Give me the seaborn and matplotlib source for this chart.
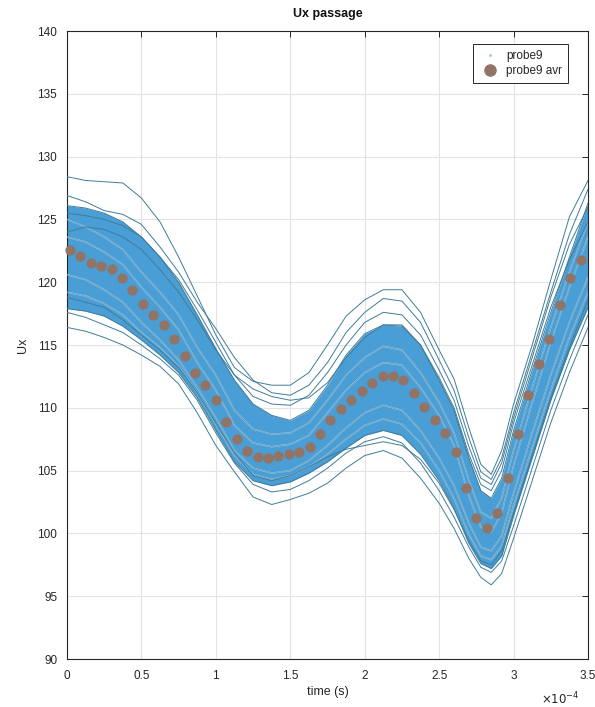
import matplotlib
matplotlib.use("Agg")
import matplotlib.pyplot as plt
from matplotlib.lines import Line2D
import pandas as pd
import seaborn as sns

# Time axis in units of 1e-4 s
t_grid = [0, 0.125, 0.25, 0.375, 0.5, 0.625, 0.75, 0.875, 1.0, 1.125, 1.25,
          1.375, 1.5, 1.625, 1.75, 1.875, 2.0, 2.125, 2.25, 2.375, 2.5,
          2.6, 2.7, 2.78, 2.85, 2.92, 3.0, 3.125, 3.25, 3.375, 3.5]

# Dense bundle of probe9 passages: upper and lower edge
core_upper = [126.1, 125.9, 125.5, 124.8, 123.6, 122.0, 120.0, 117.4, 114.7, 112.2, 110.3,
              109.4, 109.0, 109.8, 111.8, 114.2, 115.9, 116.6, 116.5, 115.0, 112.2,
              109.8, 106.0, 103.4, 102.8, 104.4, 108.2, 113.0, 117.6, 122.0, 126.3]
core_lower = [117.9, 117.7, 117.3, 116.5, 115.4, 114.2, 112.8, 110.8, 108.2, 105.7, 104.2,
              103.8, 104.1, 104.8, 105.7, 106.8, 107.8, 108.2, 107.8, 106.3, 104.2,
              102.0, 99.2, 97.6, 97.2, 98.2, 101.4, 106.0, 110.6, 114.6, 118.0]

# Individual passages standing out of the bundle
outer_runs = {
    "r01": [128.4, 128.1, 128.0, 127.9, 126.7, 124.8, 122.0, 118.9, 115.8, 113.2, 112.1,
            111.8, 111.8, 112.8, 115.0, 117.3, 118.6, 119.4, 119.4, 117.6, 114.6,
            112.3, 108.4, 105.5, 104.7, 106.6, 110.3, 115.0, 120.2, 125.2, 128.1],
    "r02": [126.9, 126.4, 125.7, 125.4, 124.6, 122.8, 120.8, 118.4, 116.3, 114.0, 112.2,
            111.2, 111.0, 111.8, 113.6, 116.0, 117.6, 118.7, 118.5, 116.8, 113.8,
            111.4, 107.6, 104.9, 104.3, 106.0, 109.6, 114.4, 119.2, 123.8, 127.4],
    "r03": [116.4, 116.1, 115.6, 115.0, 114.2, 113.3, 111.9, 109.6, 107.0, 104.9, 102.9,
            102.3, 102.7, 103.2, 104.0, 105.2, 106.2, 106.6, 106.0, 104.4, 102.4,
            100.4, 98.0, 96.5, 95.9, 96.8, 99.6, 104.2, 108.8, 112.8, 116.4],
    "r04": [117.6, 117.2, 116.6, 116.0, 115.0, 113.9, 112.6, 110.6, 108.0, 105.6, 103.9,
            103.3, 103.5, 104.2, 105.2, 106.4, 107.3, 107.7, 107.2, 105.6, 103.4,
            101.3, 98.9, 97.3, 96.9, 97.8, 100.6, 105.2, 109.8, 113.8, 117.4],
    "r05": [125.5, 125.3, 125.0, 124.5, 123.6, 122.0, 120.2, 117.8, 115.2, 112.6, 110.9,
            110.3, 110.2, 111.0, 112.8, 115.0, 116.8, 117.6, 117.4, 115.8, 113.0,
            110.6, 106.9, 104.4, 103.9, 105.6, 109.2, 114.0, 118.8, 123.0, 126.0],
    "r06": [124.0, 124.4, 124.2, 123.6, 122.6, 121.0, 119.2, 117.0, 114.6, 112.6, 111.5,
            110.9, 110.6, 110.8, 112.0, 114.0, 115.6, 116.6, 116.6, 115.0, 112.4,
            110.0, 106.3, 103.9, 103.4, 105.0, 108.8, 113.4, 118.0, 121.8, 124.8],
    "r07": [118.8, 118.4, 118.0, 117.0, 115.8, 114.6, 113.2, 111.2, 108.8, 106.4, 104.6,
            104.2, 104.6, 105.3, 106.1, 106.7, 107.0, 107.3, 107.0, 105.9, 104.0,
            101.9, 99.4, 97.8, 97.5, 98.6, 101.6, 106.2, 110.8, 114.8, 118.6],
}

# Passages inside the bundle
inner_runs = {
    "r08": [125.0, 124.4, 123.6, 122.6, 120.8, 119.2, 117.4, 114.8, 112.6, 109.8, 108.3,
            107.9, 108.0, 108.8, 110.6, 112.6, 114.0, 114.9, 114.6, 112.8, 110.4,
            108.0, 104.2, 101.7, 101.2, 102.8, 106.6, 111.6, 116.4, 120.8, 124.8],
    "r09": [120.6, 120.2, 119.4, 118.4, 116.8, 115.4, 113.8, 111.6, 109.2, 106.6, 105.2,
            104.8, 105.0, 105.8, 107.0, 108.4, 109.6, 110.2, 109.8, 108.2, 106.0,
            103.8, 100.8, 98.9, 98.6, 99.8, 103.2, 108.0, 112.6, 116.8, 120.4],
    "r10": [123.6, 123.2, 122.4, 121.4, 119.6, 118.0, 116.2, 113.6, 111.4, 108.6, 107.2,
            106.9, 107.1, 107.8, 109.6, 111.4, 112.8, 113.6, 113.4, 111.6, 109.4,
            107.0, 103.0, 100.5, 100.1, 101.6, 105.4, 110.4, 115.2, 119.6, 123.6],
    "r11": [119.2, 118.9, 118.3, 117.4, 116.0, 114.8, 113.3, 111.2, 108.7, 106.2, 104.7,
            104.3, 104.6, 105.3, 106.3, 107.5, 108.6, 109.1, 108.7, 107.2, 105.0,
            102.8, 99.9, 98.2, 97.9, 99.0, 102.2, 106.8, 111.4, 115.6, 119.2],
}

# Ensemble average of probe9
avg_t = [0.02, 0.09, 0.16, 0.23, 0.30, 0.37, 0.44, 0.51, 0.58, 0.65,
         0.72, 0.79, 0.86, 0.93, 1.00, 1.07, 1.14, 1.21, 1.28, 1.35,
         1.42, 1.49, 1.56, 1.63, 1.70, 1.77, 1.84, 1.91, 1.98, 2.05,
         2.12, 2.19, 2.26, 2.33, 2.40, 2.47, 2.54, 2.61, 2.68, 2.75,
         2.82, 2.89, 2.96, 3.03, 3.10, 3.17, 3.24, 3.31, 3.38, 3.45]
avg_u = [122.6, 122.1, 121.5, 121.3, 121.05, 120.3, 119.4, 118.3, 117.4, 116.6,
         115.5, 114.1, 112.8, 111.8, 110.6, 108.9, 107.5, 106.6, 106.05, 106.0,
         106.2, 106.3, 106.5, 106.9, 107.9, 109.0, 109.9, 110.6, 111.3, 112.0,
         112.5, 112.5, 112.2, 111.2, 110.1, 109.0, 108.0, 106.5, 103.6, 101.2,
         100.4, 101.6, 104.4, 107.9, 111.0, 113.5, 115.5, 118.2, 120.3, 121.8]

x_ticks = [0, 0.5, 1, 1.5, 2, 2.5, 3, 3.5]
y_ticks = [90, 95, 100, 105, 110, 115, 120, 125, 130, 135, 140]


def long_form(runs):
    rows = []
    for name, vals in runs.items():
        for t, u in zip(t_grid, vals):
            rows.append({"time": t, "Ux": u, "run": name})
    return pd.DataFrame(rows)


sns.set_theme(style="white")
plt.rcParams["font.family"] = ["Liberation Sans", "DejaVu Sans"]

fig = plt.figure(figsize=(5.95, 7.07), dpi=100)
ax = fig.add_axes([67 / 595, 48 / 707, 521 / 595, 628 / 707])

blue = "#4a9ed6"
edge = "#3f7c98"

ax.fill_between(t_grid, core_lower, core_upper, color=blue, lw=0, zorder=2)

inner = long_form(inner_runs)
sns.lineplot(data=inner, x="time", y="Ux", units="run", estimator=None, sort=False,
             color="white", lw=1.0, alpha=0.55, legend=False, ax=ax, zorder=3)
sns.lineplot(data=inner, x="time", y="Ux", units="run", estimator=None, sort=False,
             color=edge, lw=0.5, alpha=0.7, legend=False, ax=ax, zorder=3)

edges = long_form({"up": core_upper, "lo": core_lower})
sns.lineplot(data=edges, x="time", y="Ux", units="run", estimator=None, sort=False,
             color=edge, lw=0.7, legend=False, ax=ax, zorder=3)

outer = long_form(outer_runs)
sns.lineplot(data=outer, x="time", y="Ux", units="run", estimator=None, sort=False,
             color=edge, lw=0.7, legend=False, ax=ax, zorder=3)

avg = pd.DataFrame({"time": avg_t, "Ux": avg_u})
sns.scatterplot(data=avg, x="time", y="Ux", color="#917466", s=55, linewidth=0,
                legend=False, ax=ax, zorder=4, clip_on=False)

ax.set_xlim(0, 3.5)
ax.set_ylim(90, 140)
ax.set_xticks(x_ticks)
ax.set_xticklabels([f"{v:g}" for v in x_ticks])
ax.set_yticks(y_ticks)
ax.set_yticklabels([f"{v:g}" for v in y_ticks])
ax.grid(True, color="#e3e3e3", lw=0.8, zorder=0)
ax.set_axisbelow(True)

for sp in ax.spines.values():
    sp.set_color("#262626")
    sp.set_linewidth(0.8)
ax.tick_params(direction="in", length=4, width=0.7, colors="#262626",
               labelsize=8.5, top=True, right=True, labelcolor="#262626")
ax.tick_params(axis="x", pad=8)
ax.tick_params(axis="y", pad=7)

ax.set_title("Ux passage", fontsize=9, fontweight="bold", color="#111111", pad=10)
ax.set_xlabel("time (s)", fontsize=9, color="#262626", labelpad=3)
ax.set_ylabel("Ux", fontsize=9, color="#262626", labelpad=6)
ax.text(0.983, -0.05, r"$\times10^{-4}$", transform=ax.transAxes, ha="right", va="top",
        fontsize=8.5, color="#262626")

handles = [
    Line2D([], [], ls="none", marker=".", ms=2.5, color="#a9cfe8", label="probe9"),
    Line2D([], [], ls="none", marker="o", ms=8, color="#917466", label="probe9 avr"),
]
leg = ax.legend(handles=handles, loc="upper right", fontsize=8.5, frameon=True,
                fancybox=False, edgecolor="#262626", framealpha=1,
                borderpad=0.45, handletextpad=0.4, labelspacing=0.3,
                bbox_to_anchor=(0.972, 0.988))
leg.get_frame().set_linewidth(0.7)

fig.savefig("out.png", dpi=100, facecolor="white")
